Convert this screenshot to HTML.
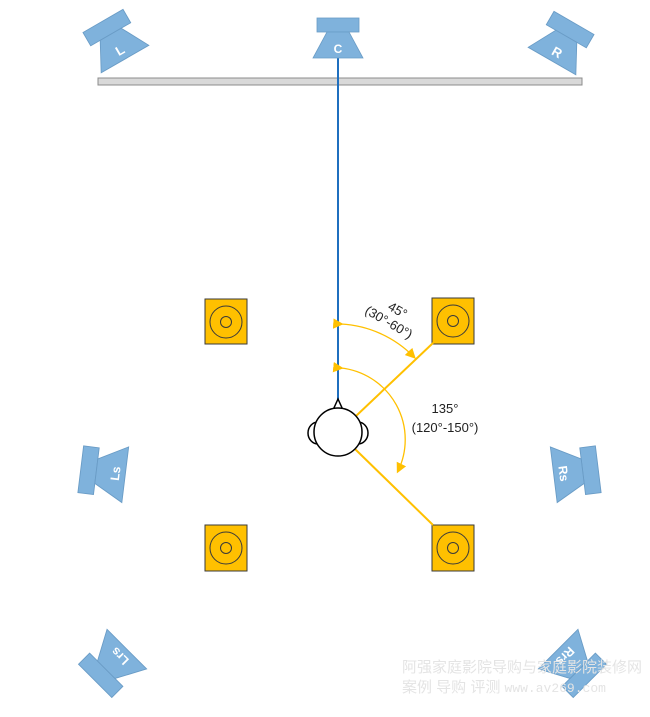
<!DOCTYPE html>
<html><head><meta charset="utf-8"><style>body{margin:0;background:#fff}svg{display:block}</style></head><body>
<svg width="650" height="717" viewBox="0 0 650 717" xmlns="http://www.w3.org/2000/svg" font-family="Liberation Sans, sans-serif">
<defs>
<g id="spk">
<rect x="-21" y="-20" width="42" height="14" fill="#7fb2dc" stroke="#6a9cc6" stroke-width="0.8"/>
<polygon points="-11,-6 11,-6 25,20 -25,20" fill="#7fb2dc" stroke="#6a9cc6" stroke-width="0.8"/>
</g>
<marker id="ar" markerWidth="8" markerHeight="8" refX="6" refY="4" orient="auto"><path d="M0,0 L8,4 L0,8 z" fill="#ffc000"/></marker>
</defs>
<rect x="98" y="78" width="484" height="7" fill="#d9d9d9" stroke="#8c8c8c"/>
<line x1="338" y1="58" x2="338" y2="402" stroke="#1f6fbf" stroke-width="2"/>
<g transform="translate(338,38)"><use href="#spk"/><text x="0" y="15" font-size="12" font-weight="bold" fill="#fff" text-anchor="middle">C</text></g>
<g transform="translate(114,40) rotate(-30) scale(1.1)"><use href="#spk"/><text x="0" y="15" font-size="12" font-weight="bold" fill="#fff" text-anchor="middle">L</text></g>
<g transform="translate(563,42) rotate(30) scale(1.1)"><use href="#spk"/><text x="0" y="15" font-size="12" font-weight="bold" fill="#fff" text-anchor="middle">R</text></g>
<g transform="translate(103,472) rotate(-83) scale(1.12)"><use href="#spk"/><text x="0" y="15" font-size="11" font-weight="bold" fill="#fff" text-anchor="middle">Ls</text></g>
<g transform="translate(576,472) rotate(83) scale(1.12)"><use href="#spk"/><text x="0" y="15" font-size="11" font-weight="bold" fill="#fff" text-anchor="middle">Rs</text></g>
<g transform="translate(111,665) rotate(-135) scale(1.12)"><use href="#spk"/><text x="0" y="15" font-size="11" font-weight="bold" fill="#fff" text-anchor="middle">Lrs</text></g>
<g transform="translate(574,665) rotate(135) scale(1.12)"><use href="#spk"/><text x="0" y="15" font-size="11" font-weight="bold" fill="#fff" text-anchor="middle">Rrs</text></g>
<g fill="#ffc000" stroke="#3a3a3a" stroke-width="1">
<rect x="205" y="299" width="42" height="45"/><rect x="432" y="298" width="42" height="46"/>
<rect x="205" y="525" width="42" height="46"/><rect x="432" y="525" width="42" height="46"/>
</g>
<g fill="none" stroke="#3a3a3a" stroke-width="1">
<circle cx="226" cy="322" r="16"/><circle cx="226" cy="322" r="5.5"/>
<circle cx="453" cy="321" r="16"/><circle cx="453" cy="321" r="5.5"/>
<circle cx="226" cy="548" r="16"/><circle cx="226" cy="548" r="5.5"/>
<circle cx="453" cy="548" r="16"/><circle cx="453" cy="548" r="5.5"/>
</g>
<line x1="356" y1="416" x2="433" y2="343" stroke="#ffc000" stroke-width="2"/>
<line x1="355" y1="449" x2="433" y2="525" stroke="#ffc000" stroke-width="2"/>
<path d="M341,324 A110,110 0 0 1 414,357" fill="none" stroke="#ffc000" stroke-width="1.3" marker-start="url(#ar)" marker-end="url(#ar)"/>
<path d="M341,368 A72,72 0 0 1 398,471" fill="none" stroke="#ffc000" stroke-width="1.3" marker-start="url(#ar)" marker-end="url(#ar)"/>
<g stroke="#000" stroke-width="1.5" fill="#fff">
<path d="M318,422 A10,11 0 0 0 318,444 Z"/><path d="M358,422 A10,11 0 0 1 358,444 Z"/>
<polygon points="338,399 333,410 343,410"/>
<circle cx="338" cy="432" r="24"/>
</g>
<g font-size="13" fill="#222">
<text transform="translate(387,309) rotate(30)">45°</text>
<text transform="translate(364,313) rotate(30)">(30°-60°)</text>
<text x="445" y="413" text-anchor="middle">135°</text>
<text x="445" y="432" text-anchor="middle">(120°-150°)</text>
</g>
<g fill="#e4e4e4" font-family="Liberation Sans, Noto Sans CJK SC, sans-serif">
<text x="402" y="672" font-size="15">阿强家庭影院导购与家庭影院装修网</text>
<text x="402" y="692" font-size="15">案例 导购 评测 <tspan font-family="Liberation Mono, monospace" font-size="13">www.av269.com</tspan></text>
</g>
</svg>
</body></html>
